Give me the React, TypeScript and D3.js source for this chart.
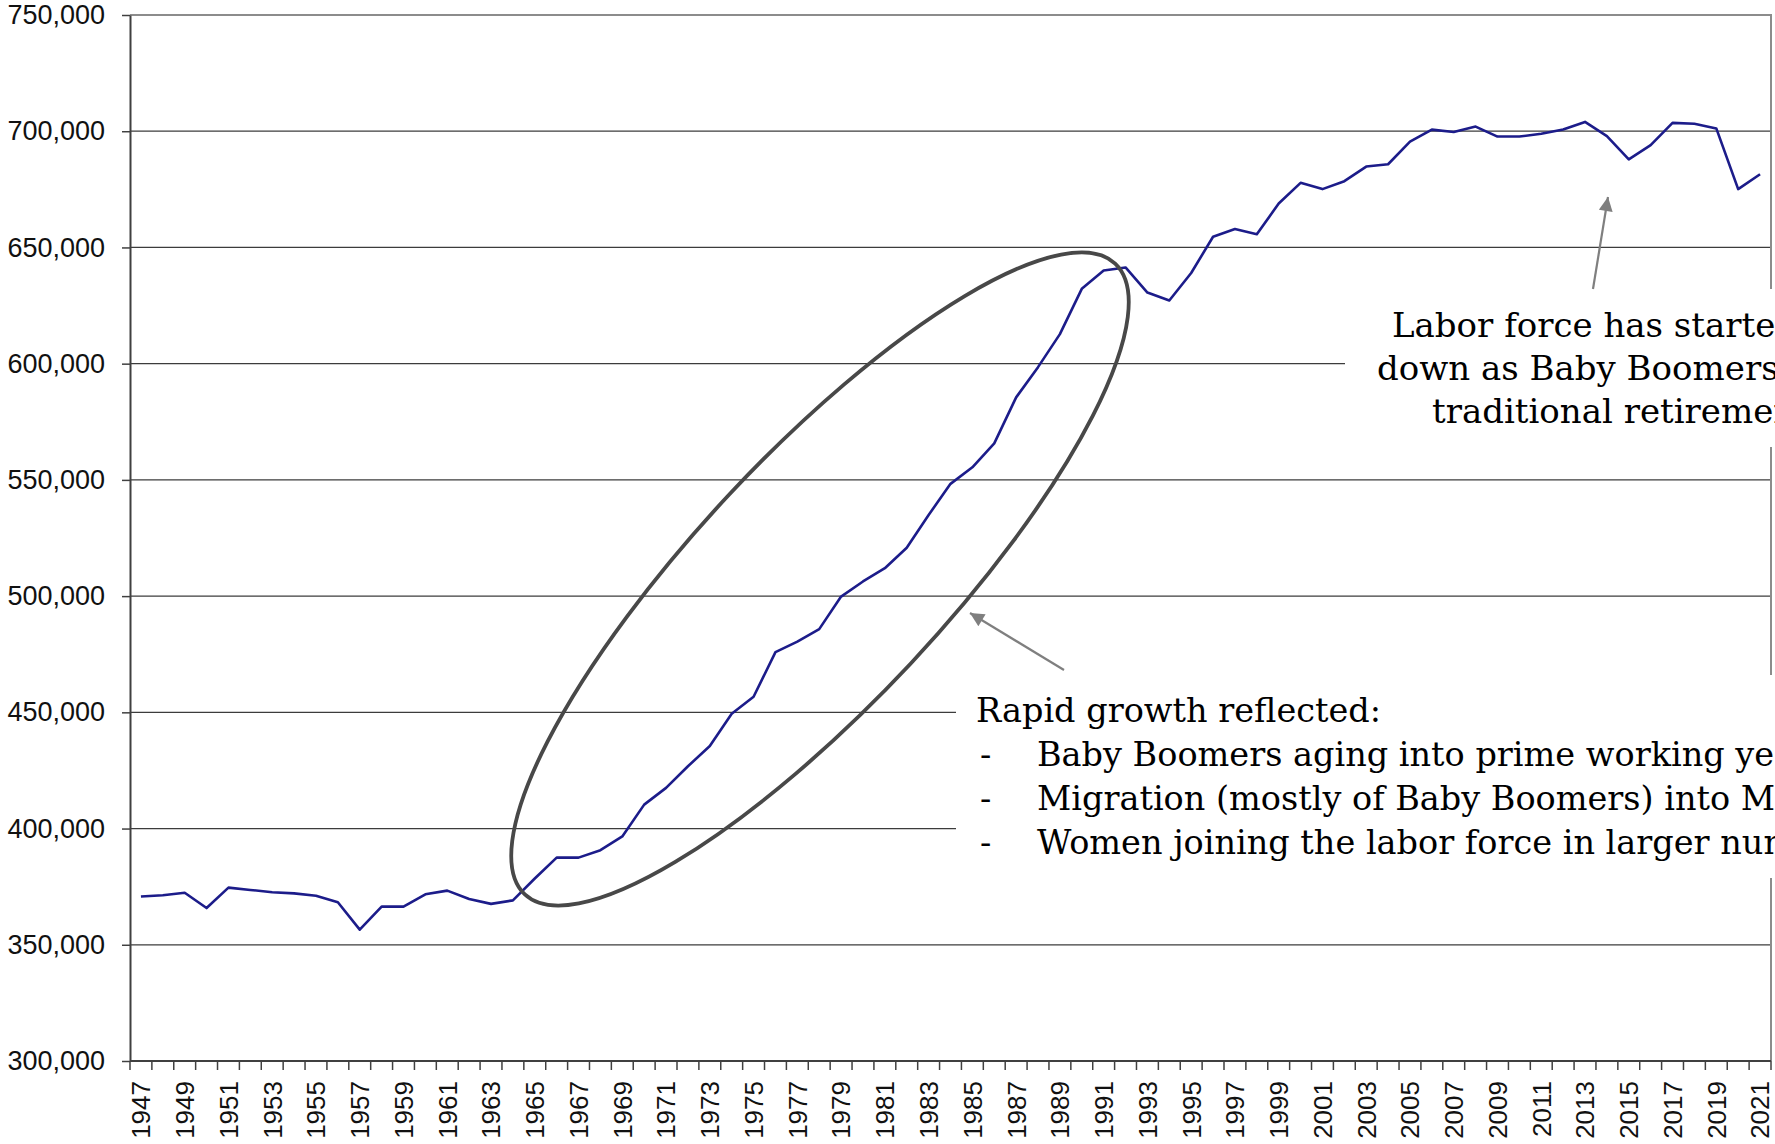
import { useEffect, useRef } from "react";
import * as d3 from "d3";

// Annual labor force
const years = d3.range(1947, 2022);
const laborForce = [
  370800, 371300, 372400, 365800, 374600, 373600, 372600, 372100, 371100, 368300,
  356500, 366400, 366400, 371700, 373300, 369700, 367600, 369100, 378500, 387500,
  387500, 390700, 396600, 410300, 417500, 426800, 435500, 449400, 456700, 475900,
  480400, 485800, 499800, 506300, 512000, 520800, 534900, 548300, 555400, 565700,
  585500, 598500, 612700, 632200, 640100, 641400, 630600, 627200, 639000, 654600,
  657900, 655700, 668900, 677800, 675100, 678500, 684800, 685800, 695500, 700700,
  699700, 702000, 697700, 697700, 698900, 700700, 704000, 697900, 687900, 694000,
  703600, 703200, 701200, 675100, 681500
];
const yTicks = [300000, 350000, 400000, 450000, 500000, 550000, 600000, 650000, 700000, 750000];
const xLabelYears = years.filter(yr => (yr - 1947) % 2 === 0);

const retireNote = [
  "Labor force has started to trend",
  "down as Baby Boomers reach",
  "traditional retirement age"
];
const rapidTitle = "Rapid growth reflected:";
const rapidBullets = [
  "Baby Boomers aging into prime working years",
  "Migration (mostly of Baby Boomers) into Maine",
  "Women joining the labor force in larger numbers"
];

function LaborForceChart() {
  const d3Ref = useRef<SVGSVGElement>(null);

  useEffect(() => {
    const width = 1775;
    const height = 1144;
    const margin = { top: 15, right: 4, bottom: 83, left: 130 };
    const plotRight = width - margin.right;
    const plotBottom = height - margin.bottom;

    const svg = d3.select(d3Ref.current);
    svg.selectAll("*").remove();
    svg.attr("width", width).attr("height", height);

    svg.append("rect").attr("width", width).attr("height", height).attr("fill", "#fff");

    // Scales
    const x = d3.scaleBand()
      .domain(years.map(String))
      .range([margin.left, plotRight])
      .padding(0);
    const bw = x.bandwidth();
    const xc = (yr: number) => (x(String(yr)) as number) + bw / 2;

    const y = d3.scaleLinear()
      .domain([300000, 750000])
      .range([plotBottom, margin.top]);

    // Gridlines
    svg.append("g")
      .selectAll("line")
      .data(yTicks.filter(v => v > 300000 && v < 750000))
      .join("line")
      .attr("x1", margin.left)
      .attr("x2", plotRight)
      .attr("y1", d => y(d))
      .attr("y2", d => y(d))
      .attr("stroke", "#3c3c3c")
      .attr("stroke-width", 1.3);

    // plot area border (top + right)
    svg.append("path")
      .attr("d", `M${margin.left},${y(750000)}H${plotRight}V${plotBottom}`)
      .attr("fill", "none")
      .attr("stroke", "#8c8c8c")
      .attr("stroke-width", 2);

    // Y Axis
    const yAxis = svg.append("g")
      .attr("transform", `translate(${margin.left},0)`)
      .call(
        d3.axisLeft(y)
          .tickValues(yTicks)
          .tickSize(8)
          .tickSizeOuter(0)
          .tickPadding(17)
          .tickFormat(d3.format(","))
      );
    yAxis.select(".domain").attr("stroke", "#404040").attr("stroke-width", 2);
    yAxis.selectAll(".tick line").attr("stroke", "#404040").attr("stroke-width", 1.5);
    yAxis.selectAll("text")
      .attr("font-family", "'Liberation Sans', Arial, sans-serif")
      .attr("font-size", 27)
      .attr("fill", "#111");

    // X Axis (ticks on category boundaries, every other year labelled)
    const xAxis = svg.append("g");
    xAxis.append("line")
      .attr("x1", margin.left)
      .attr("x2", plotRight)
      .attr("y1", plotBottom)
      .attr("y2", plotBottom)
      .attr("stroke", "#404040")
      .attr("stroke-width", 2);

    const bounds = years.map(yr => x(String(yr)) as number).concat([plotRight]);
    xAxis.selectAll("line.tick")
      .data(bounds)
      .join("line")
      .attr("class", "tick")
      .attr("x1", d => d)
      .attr("x2", d => d)
      .attr("y1", plotBottom)
      .attr("y2", plotBottom + 9)
      .attr("stroke", "#404040")
      .attr("stroke-width", 1.5);

    xAxis.selectAll("text")
      .data(xLabelYears)
      .join("text")
      .attr("transform", d => `translate(${xc(d)},${plotBottom + 20}) rotate(-90)`)
      .attr("text-anchor", "end")
      .attr("dy", "0.36em")
      .attr("font-family", "'Liberation Sans', Arial, sans-serif")
      .attr("font-size", 26)
      .attr("fill", "#111")
      .text(d => String(d));

    // Series line
    const line = d3.line<number>()
      .x((d, i) => xc(years[i]))
      .y(d => y(d));

    svg.append("path")
      .datum(laborForce)
      .attr("d", line)
      .attr("fill", "none")
      .attr("stroke", "#1c1c8a")
      .attr("stroke-width", 2.6)
      .attr("stroke-linejoin", "round");

    // Annotation text boxes (white fill hides gridlines behind them)
    svg.append("rect")
      .attr("x", 1345).attr("y", 289)
      .attr("width", width - 1345).attr("height", 158)
      .attr("fill", "#fff");
    svg.append("rect")
      .attr("x", 956).attr("y", 675)
      .attr("width", width - 956).attr("height", 203)
      .attr("fill", "#fff");

    const serif = "'DejaVu Serif', 'Liberation Serif', serif";

    const lineStarts = [1392, 1377, 1432];
    svg.append("g")
      .selectAll("text")
      .data(retireNote)
      .join("text")
      .attr("x", (d, i) => lineStarts[i])
      .attr("y", (d, i) => 337 + i * 43)
      .attr("font-family", serif)
      .attr("font-size", 34)
      .attr("fill", "#000")
      .text(d => d);

    const note = svg.append("g")
      .attr("font-family", serif)
      .attr("font-size", 33.5)
      .attr("fill", "#000");
    note.append("text").attr("x", 976).attr("y", 722).text(rapidTitle);
    rapidBullets.forEach((b, i) => {
      note.append("text").attr("x", 980).attr("y", 766 + i * 44).text("-");
      note.append("text").attr("x", 1037).attr("y", 766 + i * 44).text(b);
    });

    // Ellipse around the rapid growth period
    svg.append("ellipse")
      .attr("cx", 820)
      .attr("cy", 579)
      .attr("rx", 432)
      .attr("ry", 124)
      .attr("transform", "rotate(-46.9 820 579)")
      .attr("fill", "none")
      .attr("stroke", "#484848")
      .attr("stroke-width", 3.8);

    // Arrows
    svg.append("defs")
      .append("marker")
      .attr("id", "arrowHead")
      .attr("viewBox", "0 0 10 10")
      .attr("refX", 10)
      .attr("refY", 5)
      .attr("markerWidth", 16)
      .attr("markerHeight", 14)
      .attr("markerUnits", "userSpaceOnUse")
      .attr("orient", "auto")
      .append("path")
      .attr("d", "M0,0L10,5L0,10z")
      .attr("fill", "#7f7f7f");

    const arrows = [
      { x1: 1064, y1: 670, x2: 970, y2: 613 },
      { x1: 1593, y1: 289, x2: 1608, y2: 197 }
    ];
    svg.append("g")
      .selectAll("line")
      .data(arrows)
      .join("line")
      .attr("x1", d => d.x1)
      .attr("y1", d => d.y1)
      .attr("x2", d => d.x2)
      .attr("y2", d => d.y2)
      .attr("stroke", "#7f7f7f")
      .attr("stroke-width", 2.2)
      .attr("marker-end", "url(#arrowHead)");
  }, []);

  return (
    <svg
      ref={d3Ref}
      style={{ position: "absolute", left: 0, top: 0, display: "block" }}
    ></svg>
  );
}

export default function App() {
  return <LaborForceChart />;
}
